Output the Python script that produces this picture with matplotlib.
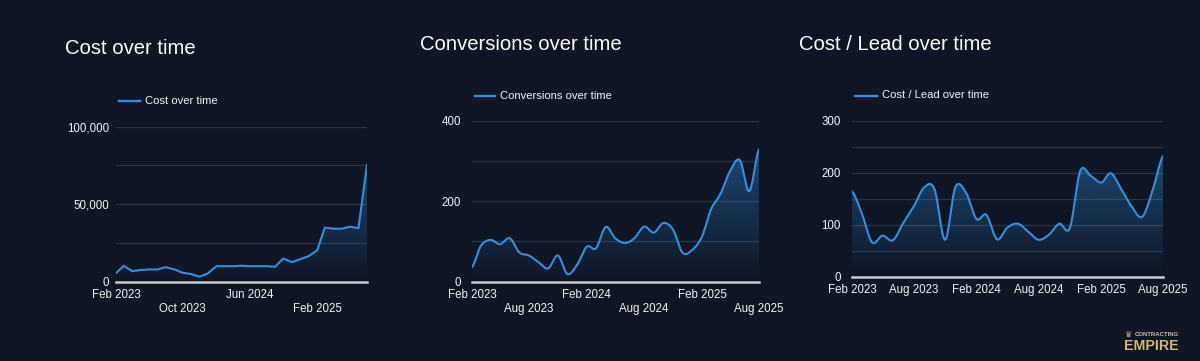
import numpy as np
import pandas as pd
import matplotlib
matplotlib.use("Agg")
import matplotlib.pyplot as plt
import matplotlib.dates as mdates
import matplotlib.colors as mcolors
from matplotlib.lines import Line2D
from matplotlib.ticker import FuncFormatter, MultipleLocator

plt.rcParams['font.family'] = ['Liberation Sans', 'DejaVu Sans']

# 0. Data (monthly, Feb 2023 - Aug 2025)
months = pd.date_range("2023-02-01", periods=31, freq="MS")

cost = [5500, 10300, 6800, 7500, 7900, 7900, 9400, 7900, 5800, 4900,
        3200, 5400, 10000, 10000, 10000, 10300, 10000, 10000, 10000, 9600,
        15000, 12600, 14500, 16500, 20300, 34900, 34200, 34200, 35500, 34500,
        75600]

conversions = [36, 89, 104, 93, 108, 73, 65, 48, 33, 65,
               19, 42, 87, 83, 136, 108, 96, 108, 137, 122,
               146, 129, 72, 79, 112, 179, 219, 275, 302, 225,
               329]

cost_per_lead = [164, 123, 66, 79, 70, 103, 135, 172, 168, 71,
                 172, 162, 111, 119, 72, 94, 102, 87, 71, 81,
                 102, 94, 203, 194, 181, 199, 168, 135, 115, 165,
                 232]

titles = ["Cost over time", "Conversions over time", "Cost / Lead over time"]

# 1. Style
W, H = 1200, 361
BG = "#0e1524"
LINE = "#3390e0"
GRID = "#283245"
BASE = "#c9cdd3"
TXT = "#f2f3f5"


def fx(px):
    return px / W


def fy(py):
    return 1 - py / H


def catmull_rom(x, y, n=20):
    x = np.asarray(x, float)
    y = np.asarray(y, float)
    xp = np.concatenate([[2 * x[0] - x[1]], x, [2 * x[-1] - x[-2]]])
    yp = np.concatenate([[y[0]], y, [y[-1]]])
    xs, ys = [], []
    t = np.linspace(0, 1, n, endpoint=False)
    for i in range(1, len(xp) - 2):
        p0, p1, p2, p3 = yp[i - 1], yp[i], yp[i + 1], yp[i + 2]
        m1 = (p2 - p0) / 2
        m2 = (p3 - p1) / 2
        h00 = 2 * t**3 - 3 * t**2 + 1
        h10 = t**3 - 2 * t**2 + t
        h01 = -2 * t**3 + 3 * t**2
        h11 = t**3 - t**2
        ys.append(h00 * p1 + h10 * m1 + h01 * p2 + h11 * m2)
        xs.append(xp[i] + t * (xp[i + 1] - xp[i]))
    xs.append([x[-1]])
    ys.append([y[-1]])
    return np.concatenate(xs), np.concatenate(ys)


def draw_panel(ax, values, smooth, ymax, major, minor, fmt, ticks, stagger):
    ax.set_facecolor(BG)
    xn = mdates.date2num(months)
    if smooth:
        xs, ys = catmull_rom(xn, values)
    else:
        xs, ys = xn, np.asarray(values, float)

    ax.plot(xs, ys, color=LINE, lw=1.5, zorder=3, solid_capstyle="round")

    # gradient area under the line
    poly = ax.fill_between(xs, ys, 0, color="none", lw=0)
    rgb = mcolors.to_rgb(LINE)
    grad = np.zeros((256, 1, 4))
    grad[:, :, :3] = rgb
    grad[:, 0, 3] = np.linspace(0, 0.42, 256)
    im = ax.imshow(grad, aspect="auto", origin="lower",
                   extent=[xn[0], xn[-1], 0, max(values)], zorder=2)
    im.set_clip_path(poly.get_paths()[0], transform=ax.transData)

    ax.set_xlim(xn[0], xn[-1])
    ax.set_ylim(0, ymax)

    ax.yaxis.set_major_locator(MultipleLocator(major))
    ax.yaxis.set_minor_locator(MultipleLocator(minor))
    ax.yaxis.set_major_formatter(FuncFormatter(fmt))
    ax.grid(True, axis="y", which="both", color=GRID, lw=1.0, zorder=1)
    ax.axhline(0, color=BASE, lw=1.8, zorder=4, clip_on=False)

    tick_dates = [months[i] for i in ticks]
    labels = []
    for k, d in enumerate(tick_dates):
        lab = d.strftime("%b %Y")
        if stagger and k % 2 == 1:
            lab = "\n" + lab
        labels.append(lab)
    ax.set_xticks(mdates.date2num(tick_dates))
    ax.set_xticklabels(labels, linespacing=1.25)

    ax.tick_params(axis="both", which="both", length=0, colors=TXT,
                   labelsize=8.3)
    ax.tick_params(axis="x", pad=5)
    for s in ax.spines.values():
        s.set_visible(False)


fig = plt.figure(figsize=(W / 100, H / 100), dpi=100)
fig.patch.set_facecolor(BG)

# axes boxes in pixels: left, right, top, bottom
boxes = [(116, 367, 126.7, 281.7), (472, 759, 120.7, 281.7), (852, 1163, 120.7, 276.7)]
axes = []
for (l, r, t, b) in boxes:
    ax = fig.add_axes([fx(l), fy(b), (r - l) / W, (b - t) / H])
    axes.append(ax)

draw_panel(axes[0], cost, False, 100000, 50000, 25000,
           lambda v, p: f"{int(v):,}", [0, 8, 16, 24], True)
axes[0].tick_params(axis="y", pad=5)
draw_panel(axes[1], conversions, True, 400, 200, 100,
           lambda v, p: f"{int(v)}", [0, 6, 12, 18, 24, 30], True)
axes[1].tick_params(axis="y", pad=8)
draw_panel(axes[2], cost_per_lead, True, 300, 100, 50,
           lambda v, p: f"{int(v)}", [0, 6, 12, 18, 24, 30], False)
axes[2].tick_params(axis="y", pad=8)

# titles
title_pos = [(65, 49), (420, 45), (799, 45)]
for (px, py), t in zip(title_pos, titles):
    fig.text(fx(px), fy(py), t, color="white", fontsize=14.6,
             va="center", ha="left")

# legends
legend_pos = [(119, 140, 100.5), (475, 495, 96), (855, 877, 95.5)]
for (x1, x2, py), t in zip(legend_pos, titles):
    fig.add_artist(Line2D([fx(x1), fx(x2)], [fy(py), fy(py)], color=LINE,
                          lw=1.7, transform=fig.transFigure))
    fig.text(fx(x2 + 5), fy(py), t, color=TXT, fontsize=8.1,
             va="center", ha="left")

# logo
fig.text(fx(1124), fy(334.5), "♛", color="#c9ad72", fontsize=6,
         va="center", ha="left", family=["DejaVu Sans"])
fig.text(fx(1135), fy(334.5), "CONTRACTING", color="#cfc3a8", fontsize=4.3,
         va="center", ha="left", fontweight="bold")
fig.text(fx(1124), fy(346), "EMPIRE", color="#d6b676", fontsize=10.2,
         va="center", ha="left", fontweight="bold")

fig.savefig("out.png", dpi=100, facecolor=BG)
